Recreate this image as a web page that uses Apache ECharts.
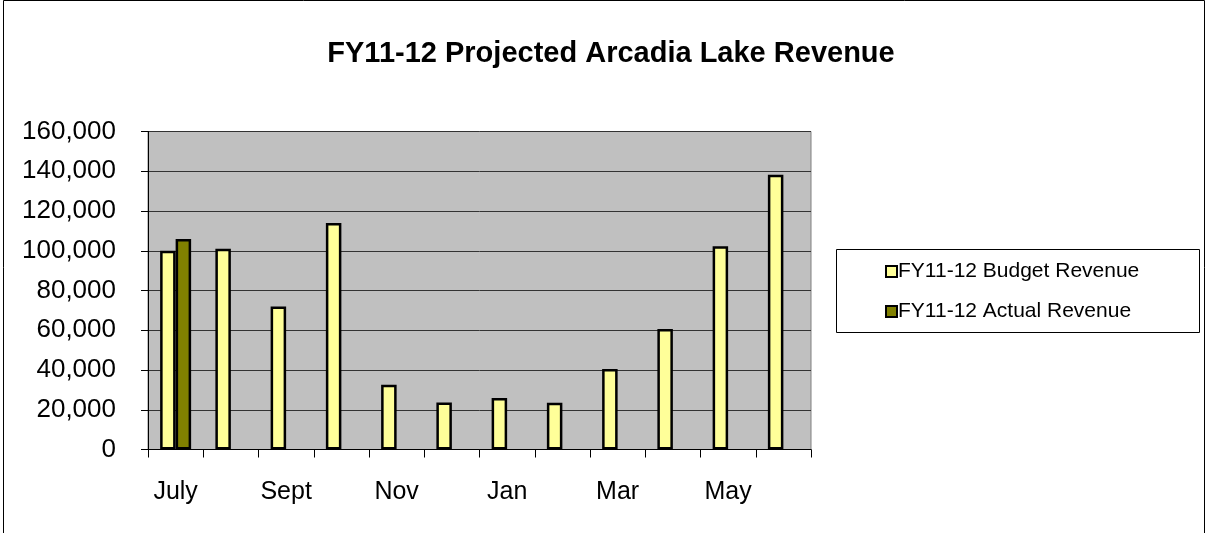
<!DOCTYPE html>
<html>
<head>
<meta charset="utf-8">
<script src="https://cdn.jsdelivr.net/npm/echarts@6/dist/echarts.min.js"></script>
<style>
html,body{margin:0;padding:0;background:#fff;}
#c{width:1207px;height:533px;}
</style>
</head>
<body>
<div id="c"></div>
<script>
var categories = ['July','Aug','Sept','Oct','Nov','Dec','Jan','Feb','Mar','Apr','May','June'];
var budgetRevenue = [100000,101000,72000,114000,32600,23600,25900,23500,40500,60600,102300,138300];
var actualRevenue = [105900,null,null,null,null,null,null,null,null,null,null,null];
var yTicks = [0,20000,40000,60000,80000,100000,120000,140000,160000];

var chart = echarts.init(document.getElementById('c'), null, {renderer:'canvas'});
var FONT = '"Liberation Sans", Arial, sans-serif';
chart.setOption({
  animation:false,
  backgroundColor:'#ffffff',
  graphic:[
    {type:'rect', shape:{x:3.5,y:0.5,width:1201,height:560}, style:{fill:'none', stroke:'#000', lineWidth:1}, silent:true},
    {type:'rect', shape:{x:836.5,y:249.5,width:363,height:83}, style:{fill:'#fff', stroke:'#000', lineWidth:1}, silent:true, z:-1}
  ],
  title:{
    text:'FY11-12 Projected Arcadia Lake Revenue',
    left:606, top:34, textAlign:'center',
    textStyle:{fontFamily:FONT, fontSize:29, fontWeight:'bold', color:'#000'}
  },
  legend:{
    orient:'vertical',
    left:885, top:261,
    padding:0,
    itemGap:19,
    itemWidth:11, itemHeight:11,
    textStyle:{fontFamily:FONT, fontSize:21, color:'#000', padding:[0,0,0,-4]},
    data:[
      {name:'FY11-12 Budget Revenue', icon:'rect', itemStyle:{color:'#FFFF99', borderColor:'#000', borderWidth:2}},
      {name:'FY11-12 Actual Revenue', icon:'rect', itemStyle:{color:'#808000', borderColor:'#000', borderWidth:2}}
    ]
  },
  grid:{left:148, right:396, top:131.5, bottom:83.5, show:true, backgroundColor:'#c0c0c0', borderColor:'#808080', borderWidth:1},
  xAxis:{
    type:'category', data:categories, boundaryGap:true,
    axisLine:{lineStyle:{color:'#000', width:1}},
    axisTick:{show:true, length:8, interval:0, lineStyle:{color:'#000'}},
    axisLabel:{interval:1, margin:30, fontFamily:FONT, fontSize:25, color:'#000'},
    splitLine:{show:false}
  },
  yAxis:{
    type:'value', min:yTicks[0], max:yTicks[yTicks.length-1], interval:yTicks[1]-yTicks[0],
    axisLine:{show:true, lineStyle:{color:'#000', width:1}},
    axisTick:{show:true, length:7, lineStyle:{color:'#000'}},
    axisLabel:{margin:32, fontFamily:FONT, fontSize:26, color:'#000',
      formatter:function(v){return v.toLocaleString('en-US');}},
    splitLine:{show:true, lineStyle:{color:'#333333', width:1}}
  },
  series:[
    {name:'FY11-12 Budget Revenue', type:'bar', data:budgetRevenue, barWidth:15.5, barGap:'0%',
     itemStyle:{color:'#FFFF99', borderColor:'#000', borderWidth:2.5}},
    {name:'FY11-12 Actual Revenue', type:'bar', data:actualRevenue, barWidth:15.5, barGap:'0%',
     itemStyle:{color:'#808000', borderColor:'#000', borderWidth:2.5}}
  ]
});
</script>
</body>
</html>
